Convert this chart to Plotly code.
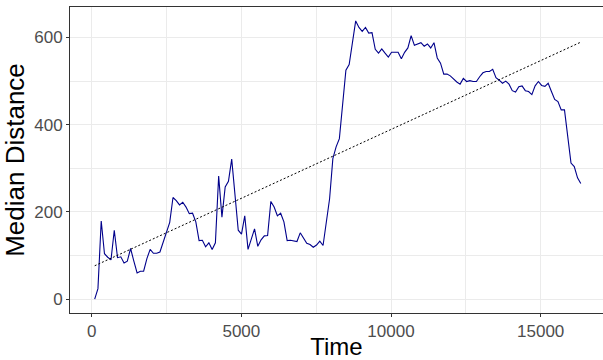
import numpy as np
import plotly.graph_objects as go

# Sampling times (regular step) and the median distance at each time
t_start, t_step = 100, 109
median_distance = [
    0, 24, 179, 104, 96, 90, 158, 95, 97, 83,
    87, 116, 87, 60, 64, 64, 93, 114, 105, 105,
    108, 132, 153, 176, 233, 226, 216, 222, 211, 196,
    197, 177, 134, 135, 120, 129, 114, 129, 282, 188,
    257, 270, 321, 235, 158, 149, 191, 114, 136, 161,
    121, 136, 145, 146, 224, 211, 191, 197, 177, 134,
    135, 134, 132, 152, 139, 128, 125, 119, 124, 133,
    123, 177, 230, 322, 349, 368, 450, 525, 538, 588,
    638, 623, 614, 623, 610, 611, 573, 564, 574, 564,
    555, 566, 566, 566, 551, 566, 576, 604, 582, 585,
    588, 580, 585, 576, 588, 553, 541, 516, 516, 512,
    504, 498, 493, 506, 499, 501, 499, 499, 510, 519,
    522, 522, 527, 508, 502, 495, 500, 493, 478, 475,
    487, 489, 478, 476, 469, 489, 499, 490, 488, 495,
    476, 458, 453, 434, 434, 372, 312, 304, 278, 265,
]
time = [t_start + i * t_step for i in range(len(median_distance))]

x_ticks = [0, 5000, 10000, 15000]
x_minor = [2500, 7500, 12500]
y_ticks = [0, 200, 400, 600]
y_minor = [100, 300, 500]

# Least-squares linear trend over the whole series
slope, intercept = np.polyfit(time, median_distance, 1)
trend_x = [time[0], time[-1]]
trend_y = [intercept + slope * x for x in trend_x]

FONT = "Liberation Sans, Arial, Helvetica, sans-serif"
GRID = "#EBEBEB"

fig = go.Figure()

fig.add_trace(go.Scatter(
    x=time, y=median_distance, mode="lines",
    line=dict(color="#00008B", width=1.1),
    showlegend=False,
))
fig.add_trace(go.Scatter(
    x=trend_x, y=trend_y, mode="lines",
    line=dict(color="black", width=1, dash="2px,2px"),
    showlegend=False,
))

fig.update_layout(
    width=603, height=360,
    margin=dict(l=70, r=0, t=7, b=40),
    paper_bgcolor="white", plot_bgcolor="white",
    font=dict(family=FONT),
    xaxis=dict(
        range=[-725, 17083],
        tickvals=x_ticks, ticktext=[str(v) for v in x_ticks],
        tickfont=dict(size=17, color="#4D4D4D"),
        ticks="outside", ticklen=3, tickcolor="#333333", tickwidth=1,
        showgrid=True, gridcolor=GRID, gridwidth=1,
        minor=dict(tickvals=x_minor, showgrid=True, gridcolor=GRID, gridwidth=0.6, ticks=""),
        showline=True, linecolor="#333333", linewidth=1, mirror=True,
        zeroline=False,
        title=dict(text="Time", font=dict(size=24, color="black"), standoff=2),
    ),
    yaxis=dict(
        range=[-31.9, 669.9],
        tickvals=y_ticks, ticktext=[str(v) for v in y_ticks],
        tickfont=dict(size=17, color="#4D4D4D"),
        ticks="outside", ticklen=3, tickcolor="#333333", tickwidth=1,
        showgrid=True, gridcolor=GRID, gridwidth=1,
        minor=dict(tickvals=y_minor, showgrid=True, gridcolor=GRID, gridwidth=0.6, ticks=""),
        showline=True, linecolor="#333333", linewidth=1, mirror=False,
        zeroline=False,
        title=dict(text="Median Distance", font=dict(size=26, color="black"), standoff=6),
    ),
)

fig.write_html("out.html")
